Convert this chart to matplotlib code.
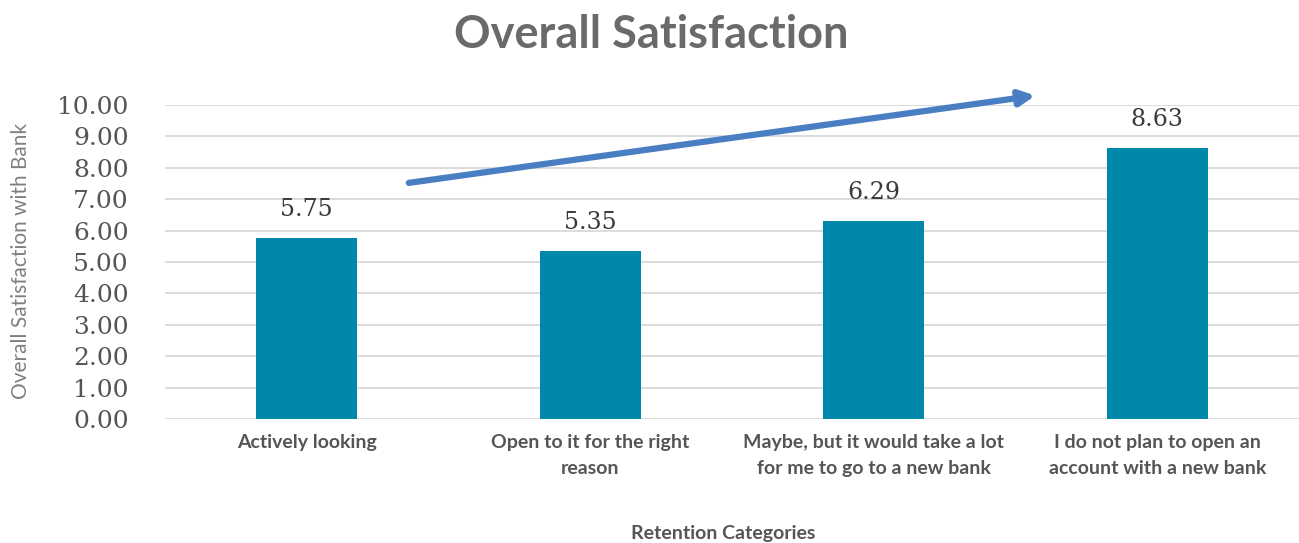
import matplotlib.pyplot as plt

categories = [
    "Actively looking",
    "Open to it for the right\nreason",
    "Maybe, but it would take a lot\nfor me to go to a new bank",
    "I do not plan to open an\naccount with a new bank",
]
satisfaction = [5.75, 5.35, 6.29, 8.63]
value_labels = ["5.75", "5.35", "6.29", "8.63"]
y_ticks = [0, 1, 2, 3, 4, 5, 6, 7, 8, 9, 10]
y_tick_labels = [f"{t:.2f}" for t in y_ticks]

# trend arrow, in data coordinates
arrow_start = (0.36, 7.52)
arrow_end = (2.57, 10.3)

BAR_COLOR = "#0088ab"
TEXT_GRAY = "#555555"

fig = plt.figure(figsize=(12.99, 5.43), dpi=100)
ax = fig.add_axes([0.127, 0.2284, 0.873, 0.5782])

x = list(range(len(categories)))
ax.bar(x, satisfaction, width=0.355, color=BAR_COLOR, zorder=3)

for xi, v, lab in zip(x, satisfaction, value_labels):
    ax.text(xi, v + 0.55, lab, ha="center", va="bottom",
            fontsize=17, family="DejaVu Serif", color="#3a3a3a")

ax.set_xlim(-0.5, 3.5)
ax.set_ylim(0, 10)
ax.set_yticks(y_ticks)
ax.set_yticklabels(y_tick_labels, family="DejaVu Serif", fontsize=18,
                   color=TEXT_GRAY)
ax.set_xticks(x)
ax.set_xticklabels(categories, family="Lato", fontweight="bold",
                   fontsize=14, color=TEXT_GRAY, linespacing=1.6)
ax.tick_params(axis="y", length=0, pad=26)
ax.tick_params(axis="x", length=0, pad=11)

ax.grid(axis="y", color="#d9d9d9", linewidth=1.3, zorder=0)
for side in ["top", "right", "left", "bottom"]:
    ax.spines[side].set_visible(False)

ax.annotate(
    "",
    xy=arrow_end,
    xytext=arrow_start,
    annotation_clip=False,
    arrowprops=dict(arrowstyle="-|>,head_length=0.9,head_width=0.45",
                    color="#4a7ec3", linewidth=4.5, shrinkA=0, shrinkB=0),
    zorder=5,
)

fig.text(0.501, 0.935, "Overall Satisfaction", ha="center", va="center",
         family="Lato", fontweight="bold", fontsize=32.5, color="#6a6a6a")
fig.text(0.016, 0.52, "Overall Satisfaction with Bank", rotation=90,
         ha="center", va="center", family="Lato", fontweight="normal",
         fontsize=15, color="#808080")
fig.text(0.557, 0.018, "Retention Categories", ha="center", va="center",
         family="Lato", fontweight="bold", fontsize=14, color=TEXT_GRAY)

fig.savefig("out.png", dpi=100, facecolor="white")
